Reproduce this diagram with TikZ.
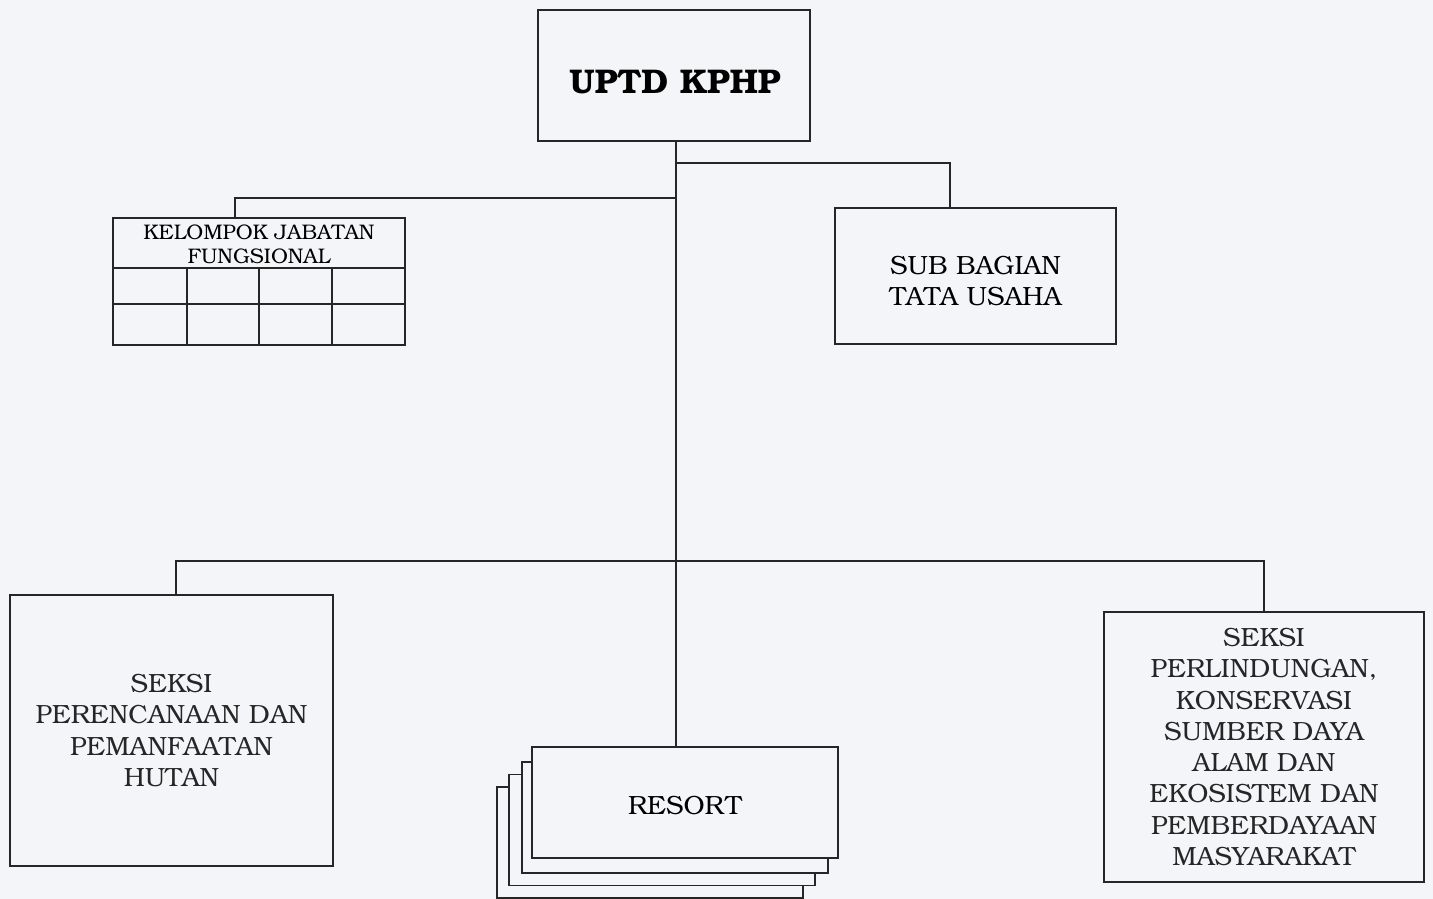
\documentclass[tikz,border=0pt]{standalone}
\usepackage[T1]{fontenc}
\usepackage{bookman}
\usetikzlibrary{positioning}
\definecolor{paper}{RGB}{244,245,249}
\tikzset{
  orgline/.style={line width=1pt, black!85},
  unitbox/.style={draw, orgline, fill=paper, align=center, inner sep=2pt,
    font=\fontsize{15}{17.8}\selectfont},
  resortbox/.style={unitbox, minimum width=6.12cm, minimum height=2.22cm}
}

\begin{document}
\begin{tikzpicture}[x=0.02cm, y=-0.02cm]
  % ── page ──────────────────────────────────────────────────────────
  \fill[paper] (0,0) rectangle (1433,899);
  \useasboundingbox (0,0) rectangle (1433,899);

  % ── head ──────────────────────────────────────────────────────────
  \node[unitbox, minimum width=5.44cm, minimum height=2.62cm] (uptd) at (674,75.5) {};
  \node[font=\fontsize{19.5}{22}\selectfont\bfseries] (uptdtxt) at (675,82) {UPTD KPHP};

  % ── staff units ───────────────────────────────────────────────────
  \node[unitbox, minimum width=5.62cm, minimum height=2.72cm] (subbag) at (975.5,276) {};
  \node[align=center, font=\fontsize{15}{17.8}\selectfont] (subbagtxt) at (975.5,281)
    {SUB BAGIAN\\TATA USAHA};

  \node[draw, orgline, minimum width=5.84cm, minimum height=2.54cm] (kjf) at (259,281.5) {};
  \node[align=center, font=\fontsize{12}{13.7}\selectfont] (kjfhead) at (259,244)
    {KELOMPOK JABATAN\\FUNGSIONAL};
  \draw[orgline] (kjf.west |- 0,268) -- (kjf.east |- 0,268);
  \draw[orgline] (kjf.west |- 0,304) -- (kjf.east |- 0,304);
  \foreach \cx in {187,259,332}
    { \draw[orgline] (\cx,268) -- (\cx,345); }

  % ── sections ──────────────────────────────────────────────────────
  \node[unitbox, minimum width=6.46cm, minimum height=5.42cm] (seksipp) at (171.5,730.5)
    {SEKSI\\PERENCANAAN DAN\\PEMANFAATAN\\HUTAN};
  \node[unitbox, minimum width=6.4cm, minimum height=5.4cm] (seksipk) at (1264,747)
    {SEKSI\\PERLINDUNGAN,\\KONSERVASI\\SUMBER DAYA\\ALAM DAN\\EKOSISTEM DAN\\PEMBERDAYAAN\\MASYARAKAT};

  % stacked resorts, back to front
  \node[resortbox] (resortd) at (650,842.5) {};
  \node[resortbox] (resortc) at (662,830) {};
  \node[resortbox] (resortb) at (675,817.5) {};
  \node[resortbox] (resort)  at (685,802.5) {};
  \node[font=\fontsize{15}{17.8}\selectfont] (resorttxt) at (685,806) {RESORT};

  % ── connectors ────────────────────────────────────────────────────
  \coordinate (jsub) at (676,163);
  \coordinate (jkjf) at (676,198);
  \coordinate (jbar) at (676,561);

  \draw[orgline] (uptd.south -| jsub) -- (jsub |- resort.north);
  \draw[orgline] (jsub) -| ([xshift=-0.51cm]subbag.north);
  \draw[orgline] (jkjf) -| ([xshift=-0.48cm]kjf.north);
  \draw[orgline] (jbar) -| ([xshift=0.09cm]seksipp.north);
  \draw[orgline] (jbar) -| (seksipk.north);
\end{tikzpicture}
\end{document}
